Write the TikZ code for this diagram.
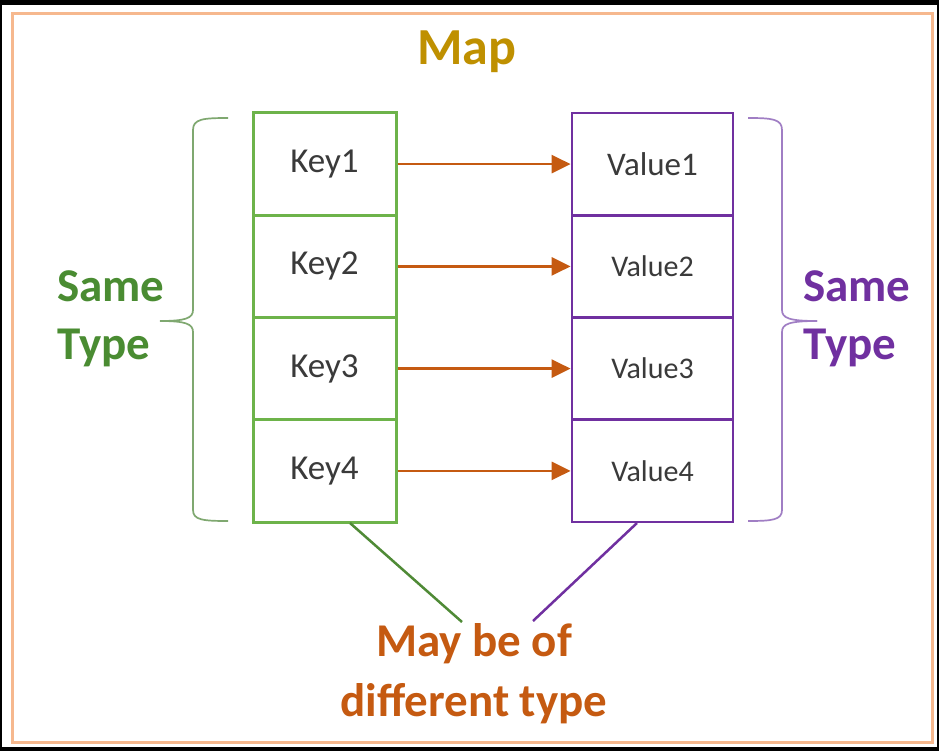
\documentclass[tikz,border=0pt]{standalone}
\usepackage{fontspec}
\setmainfont{Carlito}
\usetikzlibrary{arrows.meta}
\definecolor{frameorange}{HTML}{F6B88E}
\definecolor{mapgold}{HTML}{BF9000}
\definecolor{keygreen}{HTML}{6DB34A}
\definecolor{txtgreen}{HTML}{4A8C32}
\definecolor{bracegreen}{HTML}{7FA870}
\definecolor{linegreen}{HTML}{4F8A36}
\definecolor{valpurple}{HTML}{7030A0}
\definecolor{bracepurple}{HTML}{A07EC4}
\definecolor{arrorange}{HTML}{C55A11}
\definecolor{celltext}{HTML}{3A3A3A}
\tikzset{
  keycell/.style={draw=keygreen, line width=3pt, minimum width=143pt, minimum height=102.25pt, inner sep=0pt, text=celltext, font=\fontsize{35}{40}\selectfont},
  valcell/.style={draw=valpurple, line width=2.8pt, minimum width=161pt, minimum height=102.25pt, inner sep=0pt, text=celltext, font=\fontsize{30}{36}\selectfont},
  maparrow/.style={draw=arrorange, line width=2.8pt, -{Triangle[length=19pt,width=18pt]}},
  bigtext/.style={font=\bfseries\fontsize{47}{58}\selectfont, inner sep=0pt, align=left},
}
\begin{document}
\begin{tikzpicture}[x=1pt,y=-1pt]
\useasboundingbox (0,0) rectangle (939,751);
\fill[black] (0,0) rectangle (939,751);
\fill[white] (2,5) rectangle (937,747);
\draw[frameorange, line width=3pt] (12,14) rectangle (932,742);

\node[font=\bfseries\fontsize{52}{60}\selectfont, text=mapgold, anchor=base, inner sep=0pt] (map) at (467,65) {Map};

% key cells
\node[keycell] (k1) at (324.5,164.1) {Key1};
\node[keycell] (k2) at (324.5,266.4) {Key2};
\node[keycell] (k3) at (324.5,368.6) {Key3};
\node[keycell] (k4) at (324.5,470.9) {Key4};
% value cells
\node[valcell] (v1) at (652.5,164.1) {\fontsize{33}{38}\selectfont Value1};
\node[valcell] (v2) at (652.5,266.4) {Value2};
\node[valcell] (v3) at (652.5,368.6) {Value3};
\node[valcell] (v4) at (652.5,470.9) {Value4};

% arrows
\foreach \i in {1,2,3,4} \draw[maparrow] (k\i.east) -- (v\i.west);

% braces
\draw[bracegreen, line width=1.7pt] (228,118) .. controls (203,118) and (193,119) .. (193,130) -- (193,310) .. controls (193,318) and (186,321) .. (160,321);
\draw[bracegreen, line width=1.7pt] (160,321) .. controls (186,321) and (193,324) .. (193,332) -- (193,510) .. controls (193,520) and (203,521) .. (228,521);
\draw[bracepurple, line width=1.7pt] (748,118) .. controls (772,118) and (782,119) .. (782,130) -- (782,310) .. controls (782,318) and (789,321) .. (817,321);
\draw[bracepurple, line width=1.7pt] (817,321) .. controls (789,321) and (782,324) .. (782,332) -- (782,510) .. controls (782,520) and (772,521) .. (748,521);

% side labels
\node[bigtext, text=txtgreen, anchor=north west] (sameL) at (57,270) {Same\\Type};
\node[bigtext, text=valpurple, anchor=north west] (sameR) at (803,270) {Same\\Type};

% bottom label
\node[font=\bfseries\fontsize{47}{60}\selectfont, text=arrorange, align=center, inner sep=0pt, anchor=north] (diff) at (474,623) {May be of\\different type};

\coordinate (gs) at (350,523);
\coordinate (ge) at (462,622);
\coordinate (ps) at (637,523);
\coordinate (pe) at (533,621);
\draw[linegreen, line width=2.5pt] (gs) -- (ge);
\draw[valpurple, line width=2.5pt] (ps) -- (pe);
\end{tikzpicture}
\end{document}
